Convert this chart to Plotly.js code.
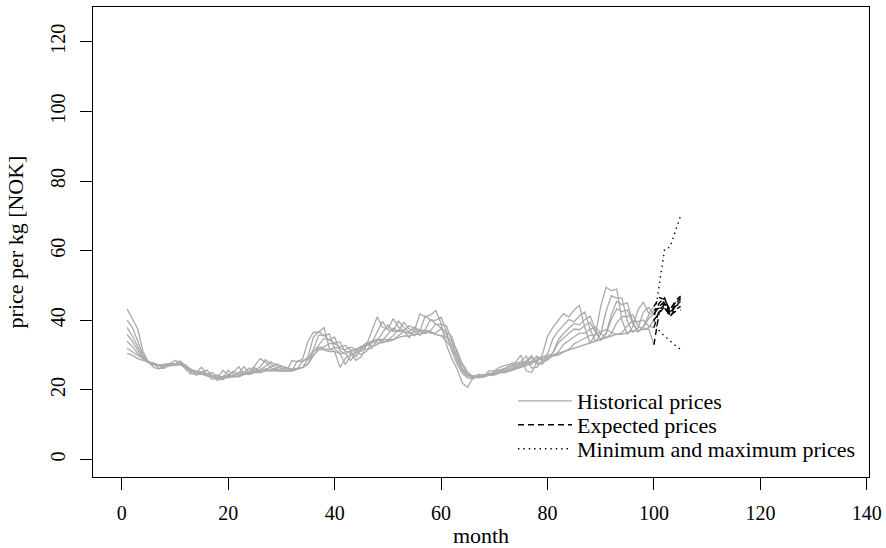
<!DOCTYPE html>
<html>
<head>
<meta charset="utf-8">
<script src="https://cdn.plot.ly/plotly-3.0.1.min.js"></script>
<style>
html,body{margin:0;padding:0;background:#fff;}
#chart{width:886px;height:548px;}
</style>
</head>
<body>
<div id="chart"></div>
<script>
// months of the historical series
const months = [1,2,3,4,5,6,7,8,9,10,11,12,13,14,15,16,17,18,19,20,21,22,23,24,25,26,27,28,29,30,31,32,33,34,35,36,37,38,39,40,41,42,43,44,45,46,47,48,49,50,51,52,53,54,55,56,57,58,59,60,61,62,63,64,65,66,67,68,69,70,71,72,73,74,75,76,77,78,79,80,81,82,83,84,85,86,87,88,89,90,91,92,93,94,95,96,97,98,99,100];
// forecast months
const fcMonths = [100,101,102,103,104,105];

// historical price series (NOK per kg)
const hist1 = [43.3,40.5,37.5,31,28,26.5,26,27,27.5,28.5, 28,26,24.5,25,26.5,24.5,23,23.5,25.6,24.5, 25,26.7,24.5,25.5,27,29,28,26.5,25.5,25.5, 25.5,28.5,28,29,34,36.6,36.5,38,32,31, 26.5,29,30.5,28.5,29.5,33,37,41,38,37.5, 40.5,38,37,35,37,41.9,41,41.5,42.8,39, 33,29,26,22,20.8,23.5,24.5,24,25.5,25.5, 26.5,27,27.5,28,30,25.5,25,28,30,35.4, 38,40,41.9,41,43,44.3,38,33.4,36,44, 49.5,48.5,49,40,36,38,43,45.2,42,44];
const hist2 = [40,38,34,30,28.2,27.5,26.2,26.2,27.5,27.5, 28.3,26.9,25.1,24.2,25,25.7,24,22.7,23.5,25.7, 24.4,24.8,26.7,24.5,25.8,26.6,28.7,27.5,26.3,25.5, 25.5,25.5,28.4,28.1,29.5,35.2,36.8,35.5,36.2,31.8, 30.5,27.3,29.8,31.1,30.1,31.1,33.6,36.9,39.7,37.3, 36.9,39.8,37.9,36.7,35.6,36.8,41.2,40.1,40,40.9, 36.8,31.2,27.5,24.8,23.5,23.2,24,24.4,24.5,25.3, 25.8,26.2,27.1,27.6,28.1,29.8,26.3,26.5,28.6,30.3, 34.7,36.9,38.6,40.2,39.6,41.3,42.4,37.5,33.9,36.1, 42.6,47.1,46.4,46.4,39.7,36.6,37.8,42.3,43.7,41.6];
const hist3 = [38,35.5,32.5,29.5,28,27.8,27,26.4,26.9,27.5, 27.5,27.2,25.8,24.7,24.4,24.5,25,23.5,22.9,24, 25.4,24.3,25.2,26.3,25,25.7,26.8,28.1,27.1,26.2, 25.5,25.5,26,28.5,28.8,31.6,35.7,35.8,34.3,35.2, 31.2,30.5,28.4,30.5,32.2,31.6,32.1,34.2,36.5,38.7, 36.8,37,39.4,37.5,37,35.7,37.2,40.3,38.9,38.8, 38.4,34.3,28.4,25.5,24,23.5,23.7,24.3,24.5,25.2, 25.7,26,26.8,27.3,27.8,28.3,29.8,27.5,27.4,29.2, 30.7,34.3,36.2,37.7,39.1,38.7,40.2,41.2,37.3,34.4, 36.3,41.7,45.4,44.5,45,39.6,36.7,38.2,41.4,43];
const hist4 = [36,34,31.5,29.2,27.8,27.2,27.3,27,27,27, 27.5,26.5,26,25.3,24.8,24,24,24.3,23.5,23.5, 24,25.1,24.8,25,26.4,25,26,26.5,27.5,26.8, 26,25.5,26,26.5,29,31,32.8,34.8,34.3,33.5, 33.8,31,31,29.5,31.8,33.3,32.5,33,34.3,36, 37.8,36.8,37,38.5,37.5,36.8,36.3,37,39,37.8, 36.5,35.4,30.8,25.5,24.5,23.8,23.5,23.8,24.8,24.5, 25.5,25.5,26.3,27,27.5,28,29.3,27.8,27.8,29.3, 30.5,33.5,35,36.3,37.5,37.3,38.5,39.4,36.5,34.5, 36,40.3,43.3,42.5,43,39,36.8,38,40.5,41.9];
const hist5 = [34,32.5,30.5,29,28.1,27.4,27,27.4,27.5,27.2, 27.2,26.5,25.5,25.4,25.2,24.3,23.7,23.5,24,24, 23.7,24,25.2,24.7,25.4,26,25.5,25.9,26.2,26.9, 26.4,25.9,26,26.5,27.5,31.1,32.2,32.4,33.3,33.3, 32.3,32.8,31.4,31.5,31.1,33,33.8,33.5,33.5,34.3, 35.6,37.3,36.7,36.6,38.1,37.1,37,36.3,36.4,37.6, 35.6,33.8,31.4,27.2,24.2,24,23.8,23.8,24.3,24.7, 25,25.4,25.9,26.5,27.2,27.7,28.2,29.7,28.5,28.6, 29.8,30.9,33.1,34.3,35.3,36.3,36.3,37.4,38.1,36.3, 35,36.2,39.3,41.1,41.1,41.6,38.4,37.3,37.9,40.1];
const hist6 = [32,31,29.8,28.8,28,27.5,27.1,27.1,27.6,27.5, 27.3,26.3,25.5,25,25.2,24.6,23.9,23.3,23.5,24.3, 24,23.8,24.5,24.9,25.1,25.2,26,25.5,25.7,25.9, 26.3,26,26.2,26.5,27.5,30,32.1,31.9,31.5,32.3, 31.8,31.5,32.3,31.7,32.5,32.7,33.7,34.4,33.9,33.9, 34.4,35.6,36.8,36.2,36.6,37.2,37.1,36.8,35.9,35.7, 35.2,32.9,30,27.4,25.2,23.8,23.9,23.8,24.2,24.3, 24.9,25.1,25.5,26.2,26.7,27.3,27.9,28.9,29.4,30.2, 29.7,30,30.9,31.7,33.2,34.1,34.9,35.7,35.9,36.7, 37.4,36.5,36,36.4,38.4,39.9,39.6,40.1,38.3,37.9];
const hist7 = [30.5,30,29,28.5,28,27.5,27,27,27.5,27.5, 27.5,26.5,25.5,25,25,24.5,24,23.5,23.5,24, 24,24,24.5,24.5,25,25,25.5,25.5,25.5,25.5, 25.5,25.5,26,26.5,27.5,30,31.5,31.5,31,31, 30.5,30.5,31,31.5,32.5,33.5,34,34.5,34.5,34.5, 34.5,35,35.5,35.5,36,36,36.5,36.5,36,35.5, 34,32,29,26,24.5,24,24,24,24.5,24.5, 25,25,25.5,26,26.5,27,27.5,28.5,29,29.5, 30,30.5,31,31.5,32,32.5,33,33.5,34,34.5, 35,35.5,36,36,36.5,37,37,37.5,37.5,33];

// expected prices, months 100-105
const exp1 = [44,46.5,46,43,45.5,47];
const exp2 = [41.6,45,46.5,42,44.5,46.5];
const exp3 = [43,43.5,45,41.5,44,45.5];
const exp4 = [41.9,44,45.5,43,45,46];
const exp5 = [40.1,42,44,41,43,44];
const exp6 = [37.9,43,44.5,42.5,44,45];
const exp7 = [33,42.5,43.5,41.5,42.5,43];

// minimum and maximum prices, months 100-105
const maxPrices = [40,50,60.5,61,65.5,70];
const minPrices = [40,37,35.5,34,32.8,31.6];

const legendLabels = ["Historical prices","Expected prices","Minimum and maximum prices"];
const xTicks = [0,20,40,60,80,100,120,140];
const yTicks = [0,20,40,60,80,100,120];

const hist = [hist1,hist2,hist3,hist4,hist5,hist6,hist7];
const exps = [exp1,exp2,exp3,exp4,exp5,exp6,exp7];

const FONT = "'Liberation Serif', 'DejaVu Serif', serif";
const FONT2 = '"Liberation Serif", serif';
const traces = [];
hist.forEach((s,i)=>{
  traces.push({x:months,y:s,type:'scatter',mode:'lines',
    line:{color:'#aaaaaa',width:1.3},
    name:legendLabels[0],showlegend:i===0,legend:'legend',hoverinfo:'skip'});
});
exps.forEach((s,i)=>{
  traces.push({x:fcMonths,y:s,type:'scatter',mode:'lines',
    line:{color:'#000000',width:1.4,dash:'6px,4px'},
    name:legendLabels[1],showlegend:i===0,legend:'legend2',hoverinfo:'skip'});
});
traces.push({x:fcMonths,y:maxPrices,type:'scatter',mode:'lines',
  line:{color:'#000000',width:1.4,dash:'1.4px,4px'},
  name:legendLabels[2],showlegend:true,legend:'legend3',hoverinfo:'skip'});
traces.push({x:fcMonths,y:minPrices,type:'scatter',mode:'lines',
  line:{color:'#000000',width:1.4,dash:'1.4px,4px'},
  name:legendLabels[2],showlegend:false,legend:'legend3',hoverinfo:'skip'});

function leg(yc){
  return {x:0.5412,y:yc,xanchor:'left',yanchor:'middle',bgcolor:'rgba(0,0,0,0)',
    borderwidth:0,font:{family:FONT,size:22,color:'#000'},itemwidth:54,tracegroupgap:0};
}

const layout = {
  width:886,height:548,
  margin:{l:93,r:17,t:7,b:71,pad:0},
  paper_bgcolor:'#fff',plot_bgcolor:'#fff',
  font:{family:FONT,size:20,color:'#000'},
  showlegend:true,
  legend:leg((477-401)/470),
  legend2:leg((477-425)/470),
  legend3:leg((477-449)/470),
  xaxis:{range:[-5.4,140.4],tickmode:'array',tickvals:xTicks,ticktext:xTicks.map(String),
    ticks:'outside',ticklen:12,tickwidth:1,tickcolor:'#000',
    showline:true,mirror:true,linecolor:'#000',linewidth:1,
    showgrid:false,zeroline:false,ticklabelstandoff:6,
    tickfont:{family:FONT2,size:20,color:'#000'},
    title:{text:'month',font:{family:FONT,size:22,color:'#000'},standoff:4}},
  yaxis:{range:[-5,130],tickmode:'array',tickvals:yTicks,ticktext:yTicks.map(String),
    ticks:'outside',ticklen:12,tickwidth:1,tickcolor:'#000',tickangle:-90,
    showline:true,mirror:true,linecolor:'#000',linewidth:1,
    showgrid:false,zeroline:false,ticklabelstandoff:7,
    tickfont:{size:20,color:'#000'},
    title:{text:'price per kg [NOK]',font:{family:FONT,size:22,color:'#000'},standoff:17}}
};

Plotly.newPlot('chart',traces,layout,{staticPlot:true,displayModeBar:false});
</script>
</body>
</html>
